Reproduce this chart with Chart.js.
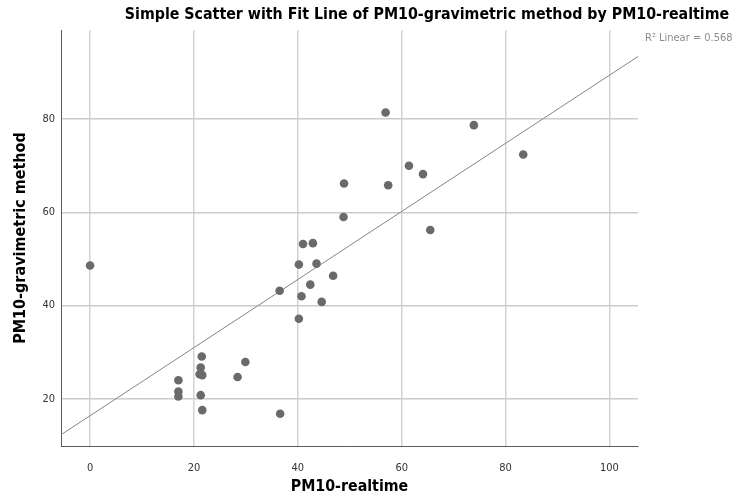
<!DOCTYPE html>
<html>
<head>
<meta charset="utf-8">
<script src="https://cdn.jsdelivr.net/npm/chart.js@4/dist/chart.umd.min.js"></script>
<style>
  html, body { margin: 0; padding: 0; background: #fff; }
  #wrap { width: 743px; height: 500px; }
</style>
</head>
<body>
<div id="wrap"><canvas id="scatter" width="743" height="500"></canvas></div>
<script>
const realtime = [0, 17.0, 17.0, 17.0, 21.3, 21.5, 21.1, 21.6, 21.3, 21.6, 28.4, 29.9,
  36.6, 36.5, 40.2, 40.7, 42.4, 44.6, 46.8, 40.2, 43.6, 41.0, 42.9,
  48.8, 48.9, 57.4, 56.9, 61.4, 64.1, 65.5, 73.9, 83.4];
const gravimetric = [48.6, 24.0, 21.6, 20.5, 20.8, 29.1, 25.3, 25.1, 26.7, 17.6, 24.7, 27.9,
  16.8, 43.2, 37.2, 42.0, 44.5, 40.8, 46.4, 48.8, 49.0, 53.2, 53.4,
  59.0, 66.2, 65.8, 81.4, 70.0, 68.2, 56.2, 78.7, 72.4];

// fit line as drawn
const fitIntercept = 16.4;
const fitSlope = 0.73;
const r2Label = "R\u00b2 Linear = 0.568";

const xMin = -5.6, xMax = 105.5;
const yMin = 9.9, yMax = 99.1;

const chartTitle = "Simple Scatter with Fit Line of PM10-gravimetric method by PM10-realtime";
const xTitle = "PM10-realtime";
const yTitle = "PM10-gravimetric method";

const points = realtime.map((x, i) => ({ x: x, y: gravimetric[i] }));
const fitLine = [xMin, xMax].map(x => ({ x: x, y: fitIntercept + fitSlope * x }));

const fam = '"DejaVu Sans Condensed", "DejaVu Sans", sans-serif';

// titles and the R² note
const textPlugin = {
  id: "texts",
  afterDraw(chart) {
    const ctx = chart.ctx;
    const area = chart.chartArea;
    ctx.save();
    ctx.fillStyle = "#000";
    ctx.textBaseline = "middle";
    ctx.textAlign = "center";
    ctx.font = "bold 15.8px " + fam;
    ctx.fillText(chartTitle, 427, 15);

    ctx.font = "bold 15.8px " + fam;
    ctx.fillText(xTitle, (area.left + area.right) / 2, 487);

    ctx.font = "bold 16px " + fam;
    ctx.translate(21, 238);
    ctx.rotate(-Math.PI / 2);
    ctx.fillText(yTitle, 0, 0);
    ctx.restore();

    ctx.save();
    ctx.font = "11px " + fam;
    ctx.fillStyle = "#8c8c8c";
    ctx.textAlign = "left";
    ctx.textBaseline = "middle";
    ctx.fillText(r2Label, 645, 38);
    ctx.restore();
  }
};

new Chart(document.getElementById("scatter"), {
  type: "scatter",
  data: {
    datasets: [
      {
        type: "line",
        data: fitLine,
        borderColor: "#858585",
        borderWidth: 1,
        pointRadius: 0,
        fill: false,
        tension: 0,
        clip: false,
        order: 2
      },
      {
        data: points,
        backgroundColor: "#6a6a6a",
        borderColor: "#6a6a6a",
        borderWidth: 0,
        pointRadius: 4.3,
        order: 1
      }
    ]
  },
  options: {
    responsive: false,
    animation: false,
    layout: { padding: { top: 30, right: 105, left: 0, bottom: 0 } },
    plugins: {
      legend: { display: false },
      title: { display: false },
      tooltip: { enabled: false }
    },
    scales: {
      x: {
        type: "linear",
        min: xMin,
        max: xMax,
        afterFit(scale) { scale.height = 54; },
        ticks: {
          stepSize: 20,
          includeBounds: false,
          padding: 16,
          color: "#333",
          font: { family: fam, size: 11 }
        },
        grid: { color: "#d2d2d2", lineWidth: 1.5, drawTicks: false },
        border: { color: "#5a5a5a", width: 1 }
      },
      y: {
        type: "linear",
        min: yMin,
        max: yMax,
        afterFit(scale) { scale.width = 61; },
        ticks: {
          stepSize: 20,
          includeBounds: false,
          padding: 6,
          color: "#333",
          font: { family: fam, size: 11 }
        },
        grid: { color: "#cccccc", lineWidth: 1.5, drawTicks: false },
        border: { color: "#5a5a5a", width: 1 }
      }
    }
  },
  plugins: [textPlugin]
});
</script>
</body>
</html>
